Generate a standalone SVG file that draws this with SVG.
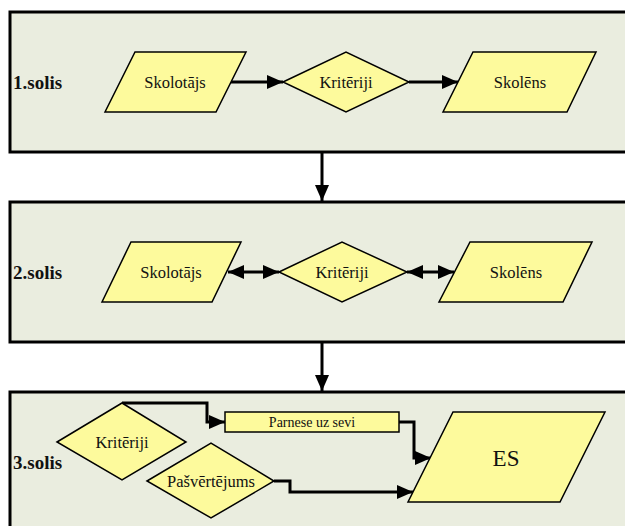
<svg xmlns="http://www.w3.org/2000/svg" width="625" height="526" viewBox="0 0 625 526">
<defs>
<style>
.panel{fill:#EAEDDF;stroke:#000;stroke-width:3}
.shape{fill:#FDFA9C;stroke:#000;stroke-width:1.5;stroke-linejoin:miter}
.t{font-family:"Liberation Serif","Times New Roman",serif;font-size:16.5px;fill:#111;text-anchor:middle;dominant-baseline:central}
.lbl{font-family:"Liberation Serif","Times New Roman",serif;font-size:19px;font-weight:bold;fill:#111;dominant-baseline:central}
.c{fill:none;stroke:#000;stroke-width:3}
</style>
<marker id="ah" markerUnits="userSpaceOnUse" markerWidth="16" markerHeight="14" viewBox="0 0 16 14" refX="16" refY="7" orient="auto">
<path d="M0,0 L16,7 L0,14 Z" fill="#000"/>
</marker>
<marker id="ahs" markerUnits="userSpaceOnUse" markerWidth="16" markerHeight="14" viewBox="0 0 16 14" refX="0" refY="7" orient="auto">
<path d="M16,0 L0,7 L16,14 Z" fill="#000"/>
</marker>
</defs>

<g id="panel1">
<rect class="panel" x="10" y="12" width="640" height="140"/>
<text class="lbl" x="13" y="82">1.solis</text>
</g>
<g id="panel2">
<rect class="panel" x="10" y="202" width="640" height="140"/>
<text class="lbl" x="13" y="272">2.solis</text>
</g>
<g id="panel3">
<rect class="panel" x="10" y="392" width="640" height="160"/>
<text class="lbl" x="13" y="462">3.solis</text>
</g>

<g id="connectors">
<line class="c" x1="322" y1="152" x2="322" y2="201" marker-end="url(#ah)"/>
<line class="c" x1="322" y1="342" x2="322" y2="391" marker-end="url(#ah)"/>
<line class="c" x1="230" y1="82" x2="283" y2="82" marker-end="url(#ah)"/>
<line class="c" x1="409" y1="82" x2="458" y2="82" marker-end="url(#ah)"/>
<line class="c" x1="228" y1="272" x2="279" y2="272" marker-start="url(#ahs)" marker-end="url(#ah)"/>
<line class="c" x1="407" y1="272" x2="454" y2="272" marker-start="url(#ahs)" marker-end="url(#ah)"/>
<polyline class="c" points="122,403 207,403 207,422 225,422" marker-end="url(#ah)"/>
<polyline class="c" points="399,422 414,422 414,458 431,458" marker-end="url(#ah)"/>
<polyline class="c" points="274,481 290,481 290,492 413,492" marker-end="url(#ah)"/>
</g>

<g id="s1-skolotajs">
<polygon class="shape" points="135,52 246,52 216,112 105,112"/>
<text class="t" x="175" y="82">Skolotājs</text>
</g>
<g id="s1-kriteriji">
<polygon class="shape" points="283,82 346,52 409,82 346,112"/>
<text class="t" x="346" y="82">Kritēriji</text>
</g>
<g id="s1-skolens">
<polygon class="shape" points="473,52 596,52 567,112 443,112"/>
<text class="t" x="520" y="82">Skolēns</text>
</g>

<g id="s2-skolotajs">
<polygon class="shape" points="131,242 241,242 212,302 102,302"/>
<text class="t" x="171" y="272">Skolotājs</text>
</g>
<g id="s2-kriteriji">
<polygon class="shape" points="279,272 342,242 407,272 342,302"/>
<text class="t" x="342" y="272">Kritēriji</text>
</g>
<g id="s2-skolens">
<polygon class="shape" points="470,242 592,242 563,302 439,302"/>
<text class="t" x="516" y="272">Skolēns</text>
</g>

<g id="s3-kriteriji">
<polygon class="shape" points="57,442 122,403 186,442 122,480"/>
<text class="t" x="122" y="442">Kritēriji</text>
</g>
<g id="s3-pasvertejums">
<polygon class="shape" points="147,481 211,443 274,481 211,518"/>
<text class="t" x="211" y="481">Pašvērtējums</text>
</g>
<g id="s3-parnese">
<rect class="shape" x="225" y="412" width="174" height="20"/>
<text class="t" x="312" y="422" style="font-size:14px">Parnese uz sevi</text>
</g>
<g id="s3-es">
<polygon class="shape" points="453,412 605,412 560,502 408,502"/>
<text class="t" x="506" y="458" style="font-size:23px">ES</text>
</g>
</svg>
